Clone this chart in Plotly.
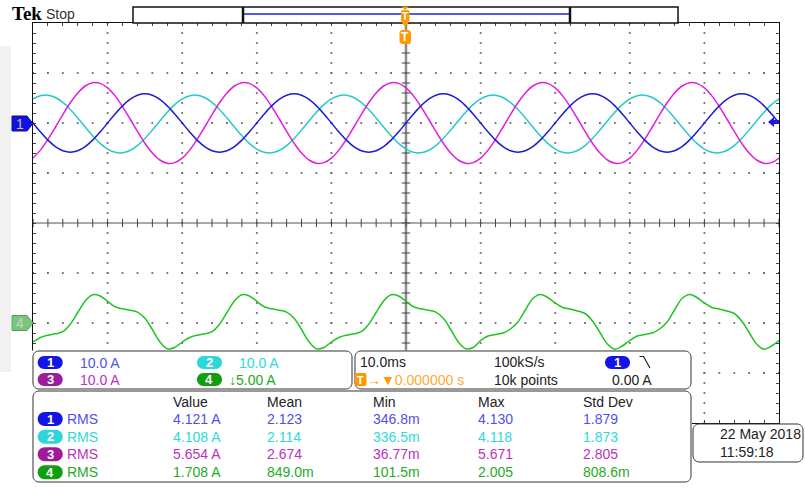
import plotly.graph_objects as go
import numpy as np

W, H = 805, 488

# ---------------- acquisition data ----------------
t_ms = list(range(-50, 51))          # sample times (ms), trigger at 0

ch1_A = [ 0.00,-1.80,-3.43,-4.72,-5.54,-5.83,-5.54,-4.72,-3.43,-1.80,
          0.00, 1.80, 3.43, 4.72, 5.54, 5.83, 5.54, 4.72, 3.43, 1.80,
          0.00,-1.80,-3.43,-4.72,-5.54,-5.83,-5.54,-4.72,-3.43,-1.80,
          0.00, 1.80, 3.43, 4.72, 5.54, 5.83, 5.54, 4.72, 3.43, 1.80,
          0.00,-1.80,-3.43,-4.72,-5.54,-5.83,-5.54,-4.72,-3.43,-1.80,
          0.00, 1.80, 3.43, 4.72, 5.54, 5.83, 5.54, 4.72, 3.43, 1.80,
          0.00,-1.80,-3.43,-4.72,-5.54,-5.83,-5.54,-4.72,-3.43,-1.80,
          0.00, 1.80, 3.43, 4.72, 5.54, 5.83, 5.54, 4.72, 3.43, 1.80,
          0.00,-1.80,-3.43,-4.72,-5.54,-5.83,-5.54,-4.72,-3.43,-1.80,
          0.00, 1.80, 3.43, 4.72, 5.54, 5.83, 5.54, 4.72, 3.43, 1.80,
          0.00]

ch2_A = [ 4.82, 5.47, 5.57, 5.10, 4.11, 2.70, 1.01,-0.81,-2.56,-4.08,
         -5.22,-5.87,-5.97,-5.50,-4.51,-3.10,-1.41, 0.41, 2.16, 3.68,
          4.82, 5.47, 5.57, 5.10, 4.11, 2.70, 1.01,-0.81,-2.56,-4.08,
         -5.22,-5.87,-5.97,-5.50,-4.51,-3.10,-1.41, 0.41, 2.16, 3.68,
          4.82, 5.47, 5.57, 5.10, 4.11, 2.70, 1.01,-0.81,-2.56,-4.08,
         -5.22,-5.87,-5.97,-5.50,-4.51,-3.10,-1.41, 0.41, 2.16, 3.68,
          4.82, 5.47, 5.57, 5.10, 4.11, 2.70, 1.01,-0.81,-2.56,-4.08,
         -5.22,-5.87,-5.97,-5.50,-4.51,-3.10,-1.41, 0.41, 2.16, 3.68,
          4.82, 5.47, 5.57, 5.10, 4.11, 2.70, 1.01,-0.81,-2.56,-4.08,
         -5.22,-5.87,-5.97,-5.50,-4.51,-3.10,-1.41, 0.41, 2.16, 3.68,
          4.82]

ch3_A = [-7.01,-5.42,-3.29,-0.85, 1.68, 4.05, 6.02, 7.40, 8.06, 7.92,
          7.01, 5.42, 3.29, 0.85,-1.68,-4.05,-6.02,-7.40,-8.06,-7.92,
         -7.01,-5.42,-3.29,-0.85, 1.68, 4.05, 6.02, 7.40, 8.06, 7.92,
          7.01, 5.42, 3.29, 0.85,-1.68,-4.05,-6.02,-7.40,-8.06,-7.92,
         -7.01,-5.42,-3.29,-0.85, 1.68, 4.05, 6.02, 7.40, 8.06, 7.92,
          7.01, 5.42, 3.29, 0.85,-1.68,-4.05,-6.02,-7.40,-8.06,-7.92,
         -7.01,-5.42,-3.29,-0.85, 1.68, 4.05, 6.02, 7.40, 8.06, 7.92,
          7.01, 5.42, 3.29, 0.85,-1.68,-4.05,-6.02,-7.40,-8.06,-7.92,
         -7.01,-5.42,-3.29,-0.85, 1.68, 4.05, 6.02, 7.40, 8.06, 7.92,
          7.01, 5.42, 3.29, 0.85,-1.68,-4.05,-6.02,-7.40,-8.06,-7.92,
         -7.01]

ch4_A = [-1.90,-1.45,-1.22,-1.08,-0.87,-0.12, 1.05, 2.20, 2.82, 2.70,
          2.17, 1.62, 1.42, 1.28, 1.08, 0.47,-0.65,-1.87,-2.58,-2.45,
         -1.90,-1.45,-1.22,-1.08,-0.87,-0.12, 1.05, 2.20, 2.82, 2.70,
          2.17, 1.62, 1.42, 1.28, 1.08, 0.47,-0.65,-1.87,-2.58,-2.45,
         -1.90,-1.45,-1.22,-1.08,-0.87,-0.12, 1.05, 2.20, 2.82, 2.70,
          2.17, 1.62, 1.42, 1.28, 1.08, 0.47,-0.65,-1.87,-2.58,-2.45,
         -1.75,-1.30,-1.15,-1.00,-0.60, 0.10, 1.30, 2.45, 2.86, 2.55,
          2.00, 1.55, 1.40, 1.20, 0.95, 0.20,-0.95,-2.10,-2.62,-2.30,
         -1.75,-1.30,-1.15,-1.00,-0.60, 0.10, 1.30, 2.45, 2.86, 2.55,
          2.00, 1.55, 1.40, 1.20, 0.95, 0.20,-0.95,-2.10,-2.62,-2.30,
         -1.75]

channels = [ch1_A, ch2_A, ch3_A, ch4_A]
ch_labels = ["1", "2", "3", "4"]
ch_scale_txt = ["10.0 A", "10.0 A", "10.0 A", "\u21935.00 A"]

meas_type = ["RMS", "RMS", "RMS", "RMS"]
meas_cols = ["Value", "Mean", "Min", "Max", "Std Dev"]
meas_value = ["4.121 A", "4.108 A", "5.654 A", "1.708 A"]
meas_mean = ["2.123", "2.114", "2.674", "849.0m"]
meas_min = ["346.8m", "336.5m", "36.77m", "101.5m"]
meas_max = ["4.130", "4.118", "5.671", "2.005"]
meas_std = ["1.879", "1.873", "2.805", "808.6m"]

timebase_txt = "10.0ms"
sample_rate_txt = "100kS/s"
trig_pos_txt = "0.000000 s"
record_txt = "10k points"
trig_src = "1"
trig_level_txt = "0.00 A"
date_txt = "22 May 2018"
time_txt = "11:59:18"

# ---------------- display settings ----------------
AMPS_PER_DIV = [10.0, 10.0, 10.0, 5.0]
OFFSET_DIV = [2.0, 2.0, 2.0, -2.0]
TRACE_COL = ["#1c1cd2", "#27c9c9", "#e01ee0", "#22c422"]
TEXT_COL = ["#4f4ff0", "#2fd9d9", "#bb33bb", "#1faa1f"]
BADGE_COL = ["#1414e6", "#2ed6d6", "#9c1c9c", "#0e9e0e"]
ORANGE = "#ff9900"
FONT = "Liberation Sans"

GX0, GX1, GY0, GY1 = 33, 779, 23, 423   # graticule box in pixels


def PX(x):
    return x / W


def PY(y):
    return 1 - y / H


def pt(x, y):
    return f"{PX(x):.5f},{PY(y):.5f}"


def rrect(x0, y0, x1, y1, r):
    k = 0.5523 * r
    return (f"M{pt(x0 + r, y0)} L{pt(x1 - r, y0)} "
            f"C{pt(x1 - r + k, y0)} {pt(x1, y0 + r - k)} {pt(x1, y0 + r)} "
            f"L{pt(x1, y1 - r)} C{pt(x1, y1 - r + k)} {pt(x1 - r + k, y1)} {pt(x1 - r, y1)} "
            f"L{pt(x0 + r, y1)} C{pt(x0 + r - k, y1)} {pt(x0, y1 - r + k)} {pt(x0, y1 - r)} "
            f"L{pt(x0, y0 + r)} C{pt(x0, y0 + r - k)} {pt(x0 + r - k, y0)} {pt(x0 + r, y0)} Z")


def poly(points, close=True):
    s = "M" + " L".join(pt(x, y) for x, y in points)
    return s + (" Z" if close else "")


shapes = []
annotations = []


def add_path(d, fill, line_col=None, lw=0, layer="above"):
    shapes.append(dict(type="path", path=d, xref="paper", yref="paper",
                       fillcolor=fill, layer=layer,
                       line=dict(color=line_col if line_col else fill, width=lw)))


def add_line(x0, y0, x1, y1, col, lw, layer="above"):
    shapes.append(dict(type="line", xref="paper", yref="paper",
                       x0=PX(x0), y0=PY(y0), x1=PX(x1), y1=PY(y1),
                       line=dict(color=col, width=lw), layer=layer))


def txt(x, y, s, col="#222", size=14, family=FONT, anchor="left"):
    annotations.append(dict(x=PX(x), y=PY(y), xref="paper", yref="paper", text=s,
                            showarrow=False, xanchor=anchor, yanchor="middle",
                            borderpad=0, font=dict(family=family, size=size, color=col)))


def badge(x0, x1, yc, h, col, label, size=13):
    add_path(rrect(x0, yc - h / 2, x1, yc + h / 2, h / 2), col)
    txt((x0 + x1) / 2, yc, f"<b>{label}</b>", "white", size, anchor="center")


fig = go.Figure()

# ---------------- graticule ----------------
gx, gy = [], []
for yd in (-3, -2, -1, 1, 2, 3):
    for xd in np.arange(-50, 50.001, 2):
        gx.append(xd); gy.append(yd)
for xd in (-40, -30, -20, -10, 10, 20, 30, 40):
    for yd in np.arange(-4, 4.001, 0.2):
        gx.append(xd); gy.append(yd)
fig.add_trace(go.Scatter(x=gx, y=gy, mode="markers", hoverinfo="skip",
                         marker=dict(symbol="square", size=1.8, color="#6a6a6a", line=dict(width=0))))
tx = list(np.arange(-50, 50.001, 2))
fig.add_trace(go.Scatter(x=tx, y=[0] * len(tx), mode="markers", hoverinfo="skip",
                         marker=dict(symbol="line-ns", size=6, line=dict(width=1, color="#444"))))
ty = list(np.arange(-4, 4.001, 0.2))
fig.add_trace(go.Scatter(x=[0] * len(ty), y=ty, mode="markers", hoverinfo="skip",
                         marker=dict(symbol="line-ew", size=6, line=dict(width=1, color="#444"))))

shapes.append(dict(type="line", xref="x", yref="y", x0=-50, x1=50, y0=0, y1=0,
                   line=dict(color="#555", width=1), layer="below"))
shapes.append(dict(type="line", xref="x", yref="y", x0=0, x1=0, y0=-4, y1=4,
                   line=dict(color="#8c8c8c", width=2.5), layer="below"))

# ---------------- waveforms ----------------
for i in (1, 2, 0, 3):
    yv = [v / AMPS_PER_DIV[i] + OFFSET_DIV[i] for v in channels[i]]
    fig.add_trace(go.Scatter(x=t_ms, y=yv, mode="lines", hoverinfo="skip",
                             line=dict(color=TRACE_COL[i], width=1.5, shape="spline", smoothing=1.0)))

# ---------------- watermark on the left ----------------
add_path(poly([(0, 46), (11, 46), (11, 372), (0, 372)]), "#f1f1f1", layer="below")

# ---------------- top bar ----------------
txt(11, 14, "<b>Tek</b>", "#000", 19, "Liberation Serif")
txt(45, 14.5, "Stop", "#333", 14)
add_path(poly([(133, 7), (678, 7), (678, 23), (133, 23)]), "white", "#111", 1.5)
add_line(243, 14, 570, 14, "#2020e0", 1.5)
add_line(243, 7, 243, 23, "#111", 2.5)
add_line(570, 7, 570, 23, "#111", 2.5)
# trigger position markers
add_path(poly([(401.5, 6.5), (409, 6.5), (405.2, 10)]), ORANGE)
add_path(rrect(401, 10, 409.5, 22, 2), ORANGE)
add_path(poly([(401, 21.5), (409.5, 21.5), (405.2, 27)]), ORANGE)
txt(405.3, 16, "<b>T</b>", "white", 10, anchor="center")
add_path(rrect(399.5, 30, 411, 44, 3), ORANGE)
txt(405.3, 37, "<b>T</b>", "white", 12, anchor="center")

# ---------------- channel ground markers ----------------
def marker(yc, fill, label, tcol, edge):
    add_path(poly([(12, yc - 7.5), (27, yc - 7.5), (33, yc), (27, yc + 7.5), (12, yc + 7.5)]),
             fill, edge, 1)
    txt(19.5, yc, label, tcol, 14, anchor="center")


marker(123.5, "#1212e0", "1", "#c4c4a8", "#0a0ab0")
marker(323, "#7cc47c", "4", "#c8d2c8", "#5aa05a")
# trigger level arrow at right
add_path(poly([(768, 122), (774, 117), (774, 127)]), "#1a1ae0")
add_path(poly([(773, 120), (779, 120), (779, 124), (773, 124)]), "#1a1ae0")

# ---------------- readout boxes ----------------
add_path(poly([(30, 350.5), (692, 350.5), (692, 488), (30, 488)]), "white", "white", 0)
add_path(rrect(33, 351, 352, 389, 6), "white", "#333", 1)
add_path(rrect(355, 351, 691, 389, 6), "white", "#333", 1)
add_path(rrect(33, 391, 691, 482, 6), "white", "#333", 1)
add_path(rrect(693, 424, 803, 462, 6), "white", "#333", 1)

# channel scales
pos = [(37.7, 62.7, 362.5, 79), (197, 222, 362.5, 238), (37.7, 62.7, 379.5, 79), (197, 222, 379.5, 228)]
for i, (bx0, bx1, by, tx0) in enumerate(pos):
    badge(bx0, bx1, by, 13, BADGE_COL[i], ch_labels[i])
    txt(tx0, by, ch_scale_txt[i], TEXT_COL[i], 14)

# horizontal / trigger
txt(359, 362, timebase_txt, "#222", 14)
txt(493, 362, sample_rate_txt, "#222", 14)
badge(605, 630, 362.5, 13, BADGE_COL[0], trig_src)
add_path(poly([(639.5, 356.5), (643.5, 356.5), (650, 368)], close=False), "rgba(0,0,0,0)", "#222", 1.2)
add_path(rrect(355, 373, 366.5, 386, 2), ORANGE)
txt(360.8, 379.5, "<b>T</b>", "white", 11, anchor="center")
txt(366, 379.5, f"<span style='color:{ORANGE}'>\u2192\u25bc</span>{trig_pos_txt}", "#ffaa33", 14)
txt(493, 379.5, record_txt, "#222", 14)
txt(611, 379.5, trig_level_txt, "#222", 14)

# measurements
col_x = [172, 266, 371.5, 477, 582]
txt_cols = [meas_value, meas_mean, meas_min, meas_max, meas_std]
for cx, name in zip(col_x, meas_cols):
    txt(cx, 401.7, name, "#222", 14)
row_y = [419, 436.7, 454.3, 472.3]
for i, ry in enumerate(row_y):
    badge(37.7, 62.7, ry, 14, BADGE_COL[i], ch_labels[i])
    txt(66, ry, meas_type[i], TEXT_COL[i], 14)
    for cx, col in zip(col_x, txt_cols):
        txt(cx, ry, col[i], TEXT_COL[i], 14)

# date / time
txt(718.5, 434.3, date_txt, "#222", 14)
txt(718.5, 452.3, time_txt, "#222", 14)

# ---------------- layout ----------------
fig.update_layout(
    width=W, height=H, margin=dict(l=0, r=0, t=0, b=0),
    paper_bgcolor="white", plot_bgcolor="rgba(0,0,0,0)", showlegend=False,
    xaxis=dict(domain=[GX0 / W, GX1 / W], range=[-50, 50], showgrid=False, zeroline=False,
               showticklabels=False, ticks="inside", tick0=-50, dtick=2, ticklen=3,
               tickcolor="#444", tickwidth=1, showline=True, linecolor="#111", linewidth=1,
               mirror="allticks", fixedrange=True),
    yaxis=dict(domain=[1 - GY1 / H, 1 - GY0 / H], range=[-4, 4], showgrid=False, zeroline=False,
               showticklabels=False, ticks="inside", tick0=-4, dtick=0.2, ticklen=3,
               tickcolor="#444", tickwidth=1, showline=True, linecolor="#111", linewidth=1,
               mirror="allticks", fixedrange=True),
    shapes=shapes, annotations=annotations,
)

fig.write_html("out.html", config={"displayModeBar": False},
               post_script="document.body.style.margin='0';document.body.style.padding='0';"
                           "document.body.style.overflow='hidden';")
